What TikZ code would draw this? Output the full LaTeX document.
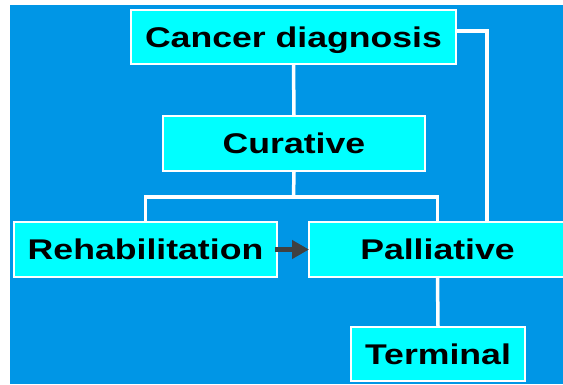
\documentclass[tikz,border=0pt]{standalone}
\usepackage{fontspec}
\newfontfamily\boxfont[FakeStretch=1.25]{Liberation Sans}
\usetikzlibrary{arrows.meta}
\definecolor{panelblue}{RGB}{0,150,230}
\definecolor{boxcyan}{RGB}{0,255,255}
\definecolor{arrowgrey}{RGB}{64,64,64}
\tikzset{
  boxframe/.style={draw=white, line width=2pt, fill=boxcyan, inner sep=0pt},
  boxlabel/.style={inner sep=0pt,
    font=\boxfont\bfseries\fontsize{28.5}{30}\selectfont, text=black,
    text height=20.5pt, text depth=0pt},
  stage/.style={boxframe, boxlabel},
  wire/.style={draw=white, line width=3.5pt},
  flow/.style={draw=arrowgrey, line width=5pt,
    -{Triangle[length=17pt,width=18pt]}}
}
\begin{document}
\begin{tikzpicture}[x=1pt,y=-1pt]
  \useasboundingbox (0,0) rectangle (563,384);
  \fill[panelblue] (10,5) rectangle (563,384);

  \coordinate (split) at (293.5,197);
  \coordinate (side) at (487,31);

  % stages
  \node[stage, minimum width=325pt, minimum height=54pt] (cancer) at (293.5,37) {Cancer diagnosis};
  \node[stage, minimum width=262pt, minimum height=55pt] (cure) at (294,143.5) {Curative};
  \node[stage, minimum width=263pt, minimum height=55pt] (rehab) at (145.5,249.5) {Rehabilitation};
  % the palliative box runs past the right edge of the panel
  \node[boxframe, anchor=west, minimum width=280pt, minimum height=55pt] (pallbox) at (308,249.5) {};
  \node[boxlabel] (pall) at (437.5,249.5) {Palliative};
  \node[stage, minimum width=174pt, minimum height=54pt] (term) at (438,354) {Terminal};

  % tree lines
  \draw[wire] (cancer.south) -- (cure.north);
  \draw[wire] (cure.south) -- (split);
  \draw[wire] (rehab.north) |- (split) -| (pall |- pallbox.north);
  \draw[wire] (cancer.east |- side) -| (pallbox.north -| side);
  \draw[wire] (pall |- pallbox.south) -- (term.north);

  % transition arrow
  \draw[flow] ([xshift=-3pt]rehab.east) -- ([xshift=1pt]pallbox.west);
\end{tikzpicture}
\end{document}
